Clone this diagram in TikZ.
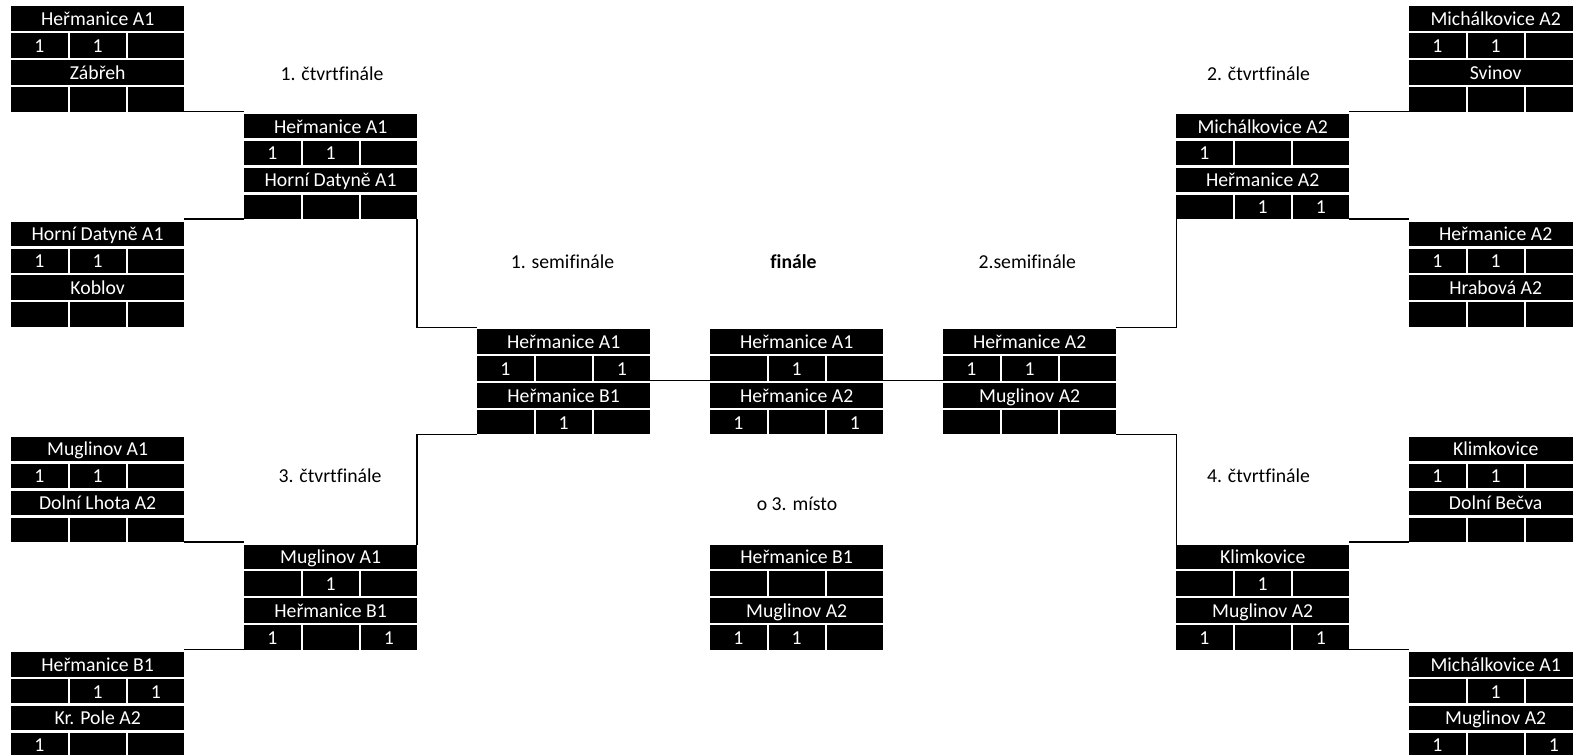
\documentclass[tikz,border=0pt]{standalone}
\usepackage{fontspec}
\setmainfont{Carlito}[Ligatures={NoCommon}]
\tikzset{
  cellbase/.style={anchor=north west, fill=black, text=white, inner sep=0pt, outer sep=0pt,
    minimum height=18.3pt, text height=10.2pt, text depth=0pt,
    font=\fontsize{14.8pt}{17pt}\selectfont},
  teamcell/.style={cellbase, minimum width=129.56pt},
  scorecell/.style={cellbase, minimum width=42.19pt},
  lbl/.style={anchor=base, inner sep=0pt, text=black, font=\fontsize{14.8pt}{17pt}\selectfont},
  conn/.style={line width=1.2pt, black},
}
\newcommand\scorerow[6]{%
  \node[scorecell] (#1c1) at ({11+58.25*(#2)+0.3},{6.5+26.9*(#3)}) {#4};
  \node[scorecell] (#1c2) at ({11+58.25*(#2+1)+0.3},{6.5+26.9*(#3)}) {#5};
  \node[scorecell] (#1c3) at ({11+58.25*(#2+2)+0.3},{6.5+26.9*(#3)}) {#6};}
\newcommand\match[7]{%
  \node[teamcell] (#1-t1) at ({11+58.25*(#2)+0.3},{6.5+26.9*(#3)}) {#4};
  \scorerow{#1-s1}{#2}{#3+1}#5
  \node[teamcell] (#1-t2) at ({11+58.25*(#2)+0.3},{6.5+26.9*(#3+2)}) {#6};
  \scorerow{#1-s2}{#2}{#3+3}#7}
\begin{document}
\begin{tikzpicture}[x=0.75pt, y=-0.75pt]
\useasboundingbox (0,0) rectangle (1573,755);
\fill[white] (0,0) rectangle (1573,755);
\clip (0,0) rectangle (1573,755);

% left side
\match{L1}{0}{0}{Heřmanice A1}{{1}{1}{}}{Zábřeh}{{}{}{}}
\match{L2}{0}{8}{Horní Datyně A1}{{1}{1}{}}{Koblov}{{}{}{}}
\match{L3}{0}{16}{Muglinov A1}{{1}{1}{}}{Dolní Lhota A2}{{}{}{}}
\match{L4}{0}{24}{Heřmanice B1}{{}{1}{1}}{Kr. Pole A2}{{1}{}{}}
\match{QF1}{4}{4}{Heřmanice A1}{{1}{1}{}}{Horní Datyně A1}{{}{}{}}
\match{QF3}{4}{20}{Muglinov A1}{{}{1}{}}{Heřmanice B1}{{1}{}{1}}
\match{SF1}{8}{12}{Heřmanice A1}{{1}{}{1}}{Heřmanice B1}{{}{1}{}}
% centre
\match{F}{12}{12}{Heřmanice A1}{{}{1}{}}{Heřmanice A2}{{1}{}{1}}
\match{T3}{12}{20}{Heřmanice B1}{{}{}{}}{Muglinov A2}{{1}{1}{}}
% right side
\match{SF2}{16}{12}{Heřmanice A2}{{1}{1}{}}{Muglinov A2}{{}{}{}}
\match{QF2}{20}{4}{Michálkovice A2}{{1}{}{}}{Heřmanice A2}{{}{1}{1}}
\match{QF4}{20}{20}{Klimkovice}{{}{1}{}}{Muglinov A2}{{1}{}{1}}
\match{R1}{24}{0}{Michálkovice A2}{{1}{1}{}}{Svinov}{{}{}{}}
\match{R2}{24}{8}{Heřmanice A2}{{1}{1}{}}{Hrabová A2}{{}{}{}}
\match{R3}{24}{16}{Klimkovice}{{1}{1}{}}{Dolní Bečva}{{}{}{}}
\match{R4}{24}{24}{Michálkovice A1}{{}{1}{}}{Muglinov A2}{{1}{}{1}}

% labels
\node[lbl] (lab-qf1) at (332,80.5) {1. čtvrtfinále};
\node[lbl] (lab-qf2) at (1258.5,80.5) {2. čtvrtfinále};
\node[lbl] (lab-sf1) at (562.5,269) {1. semifinále};
\node[lbl] (lab-f) at (793.5,269) {\bfseries finále};
\node[lbl] (lab-sf2) at (1027.3,269) {2.semifinále};
\node[lbl] (lab-qf3) at (330,482.5) {3. čtvrtfinále};
\node[lbl] (lab-qf4) at (1258.5,482.5) {4. čtvrtfinále};
\node[lbl] (lab-t3) at (797,510) {o 3. místo};

% connectors left
\draw[conn] (L1-s2c3.south east) -- (L1-s2c3.south east -| QF1-t1.west);
\draw[conn] (QF1-s2c1.south west) -- (QF1-s2c1.south west -| L2-t1.east);
\draw[conn] (QF1-s2c3.south east) |- ([yshift=1.2pt]SF1-t1.north west);
\draw[conn] (QF3-t1.north east) |- (SF1-s2c1.south west);
\draw[conn] (L3-s2c3.south east) -- (L3-s2c3.south east -| QF3-t1.west);
\draw[conn] (QF3-s2c1.south west) -- (QF3-s2c1.south west -| L4-t1.east);
% centre
\draw[conn] (SF1-s1c3.south east) -- (F-s1c1.south west);
\draw[conn] (F-s1c3.south east) -- (SF2-s1c1.south west);
% right
\draw[conn] (R1-s2c1.south west) -- (R1-s2c1.south west -| QF2-t1.east);
\draw[conn] (QF2-s2c3.south east) -- (QF2-s2c3.south east -| R2-t1.west);
\draw[conn] (QF2-s2c1.south west) |- ([yshift=1.2pt]SF2-t1.north east);
\draw[conn] (QF4-t1.north west) |- (SF2-s2c3.south east);
\draw[conn] (R3-s2c1.south west) -- (R3-s2c1.south west -| QF4-t1.east);
\draw[conn] (QF4-s2c3.south east) -- (QF4-s2c3.south east -| R4-t1.west);
\end{tikzpicture}
\end{document}
